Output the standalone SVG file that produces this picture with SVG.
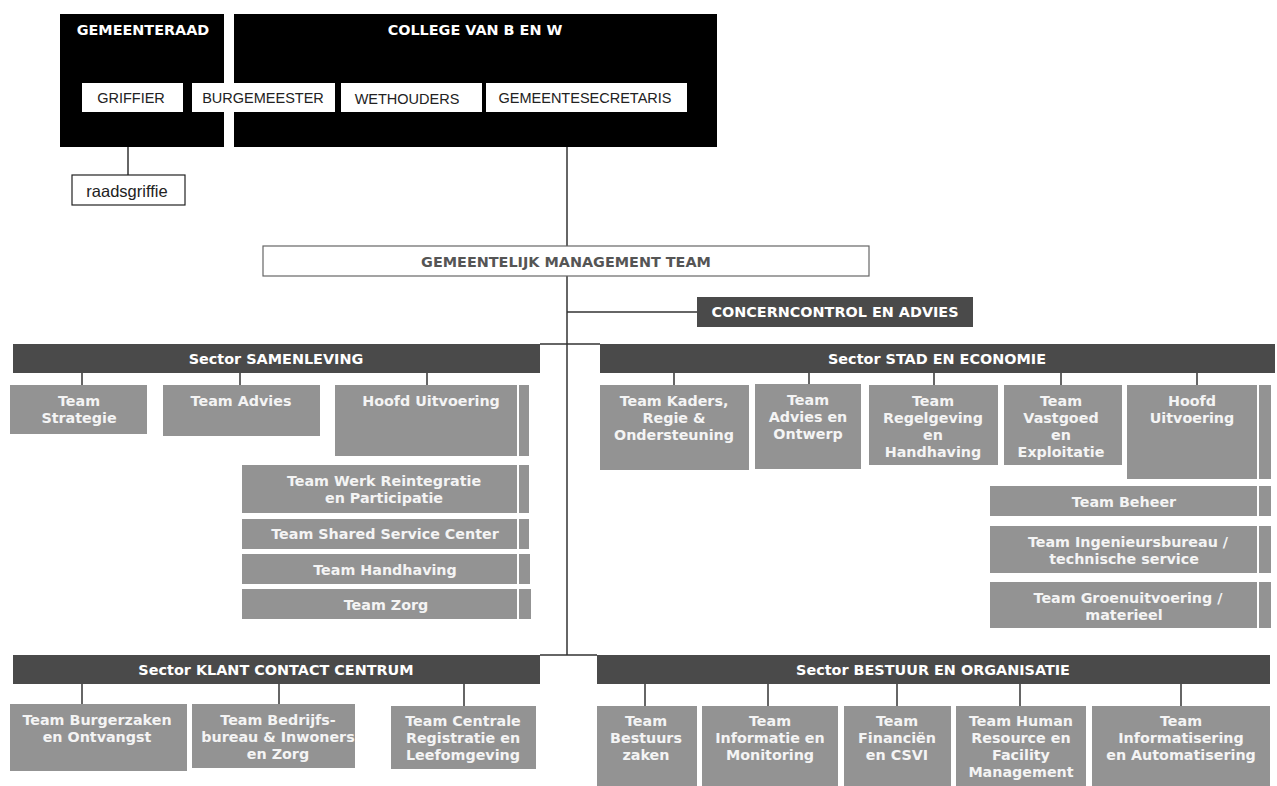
<svg xmlns="http://www.w3.org/2000/svg" width="1277" height="786" viewBox="0 0 1277 786">
<style>
.blk{fill:#000}
.wb{fill:#fff}
.wt{font-family:"Liberation Sans",Arial,sans-serif;font-size:14.5px;fill:#222;text-anchor:middle}
.ht{font-family:"DejaVu Sans",Verdana,sans-serif;font-weight:bold;font-size:14.4px;fill:#fff;text-anchor:middle}
.sec{fill:#4a4a4a}
.st{font-family:"DejaVu Sans",Verdana,sans-serif;font-weight:bold;font-size:14.4px;fill:#fff;text-anchor:middle}
.tm{fill:#939393}
.tt{font-family:"DejaVu Sans",Verdana,sans-serif;font-weight:bold;font-size:14.3px;fill:#f4f4f4;text-anchor:middle}
.tc{font-family:"DejaVu Sans",Verdana,sans-serif;font-weight:bold;font-size:14.3px;fill:#f4f4f4;text-anchor:middle}
.sp{stroke:#fff;stroke-width:2}
.ln{stroke:#333;stroke-width:1.5;fill:none}
</style>
<rect width="1277" height="786" fill="#fff"/>
<g id="connectors">
<line class="ln" x1="128" y1="147" x2="128" y2="175"/>
<line class="ln" x1="567" y1="147" x2="567" y2="246"/>
<line class="ln" x1="567" y1="276" x2="567" y2="655"/>
<line class="ln" x1="567" y1="312" x2="697" y2="312"/>
<line class="ln" x1="540" y1="344" x2="600" y2="344"/>
<line class="ln" x1="540" y1="655" x2="597" y2="655"/>
<line class="ln" x1="82" y1="373" x2="82" y2="385"/>
<line class="ln" x1="240" y1="373" x2="240" y2="385"/>
<line class="ln" x1="427" y1="373" x2="427" y2="385"/>
<line class="ln" x1="674" y1="373" x2="674" y2="385"/>
<line class="ln" x1="809" y1="373" x2="809" y2="384"/>
<line class="ln" x1="934" y1="373" x2="934" y2="385"/>
<line class="ln" x1="1061" y1="373" x2="1061" y2="385"/>
<line class="ln" x1="1197" y1="373" x2="1197" y2="385"/>
<line class="ln" x1="82" y1="684" x2="82" y2="704"/>
<line class="ln" x1="279" y1="684" x2="279" y2="704"/>
<line class="ln" x1="464" y1="684" x2="464" y2="706"/>
<line class="ln" x1="645" y1="684" x2="645" y2="706"/>
<line class="ln" x1="768" y1="684" x2="768" y2="706"/>
<line class="ln" x1="897" y1="684" x2="897" y2="706"/>
<line class="ln" x1="1020" y1="684" x2="1020" y2="706"/>
<line class="ln" x1="1181" y1="684" x2="1181" y2="706"/>
</g>
<g id="gemeenteraad"><rect class="blk" x="60" y="14" width="164" height="133"/><text class="ht" x="143" y="35">GEMEENTERAAD</text></g>
<g id="college"><rect class="blk" x="234" y="14" width="483" height="133"/><text class="ht" x="475" y="35">COLLEGE VAN B EN W</text></g>
<g id="griffier"><rect class="wb" x="82" y="83" width="101" height="29"/><text class="wt" x="131" y="103">GRIFFIER</text></g>
<g id="burgemeester"><rect class="wb" x="192" y="83" width="143" height="29"/><text class="wt" x="263" y="103">BURGEMEESTER</text></g>
<g id="wethouders"><rect class="wb" x="341" y="83" width="141" height="29"/><text class="wt" x="407" y="104">WETHOUDERS</text></g>
<g id="gemeentesecretaris"><rect class="wb" x="486" y="83" width="201" height="29"/><text class="wt" x="585" y="103">GEMEENTESECRETARIS</text></g>
<g id="raadsgriffie"><rect x="72" y="175" width="113" height="30" fill="#fff" stroke="#222" stroke-width="1.2"/><text class="wt" x="127" y="197" style="font-size:16.5px">raadsgriffie</text></g>
<g id="gmt"><rect x="263" y="246" width="606" height="30" fill="#fff" stroke="#666" stroke-width="1.2"/><text class="ht" x="566" y="267" style="fill:#555">GEMEENTELIJK MANAGEMENT TEAM</text></g>
<g id="concerncontrol"><rect class="sec" x="697" y="297" width="276" height="30"/><text class="ht" x="835" y="317">CONCERNCONTROL EN ADVIES</text></g>

<g id="sector-samenleving"><rect class="sec" x="13" y="344" width="527" height="29"/><text class="st" x="276" y="364">Sector SAMENLEVING</text></g>
<g id="team-strategie"><rect class="tm" x="10" y="385" width="137" height="49"/><text class="tt" x="79" y="406">Team</text><text class="tt" x="79" y="423">Strategie</text></g>
<g id="team-advies"><rect class="tm" x="163" y="385" width="157" height="51"/><text class="tt" x="241" y="406">Team Advies</text></g>
<g id="hoofd-uitvoering-s"><rect class="tm" x="335" y="385" width="194" height="71"/><line class="sp" x1="518" y1="385" x2="518" y2="456"/><text class="tt" x="431" y="406">Hoofd Uitvoering</text></g>
<g id="team-werk"><rect class="tm" x="242" y="465" width="287" height="48"/><line class="sp" x1="518" y1="465" x2="518" y2="513"/><text class="tt" x="384" y="486">Team Werk Reintegratie</text><text class="tt" x="384" y="503">en Participatie</text></g>
<g id="team-ssc"><rect class="tm" x="242" y="519" width="287" height="30"/><line class="sp" x1="518" y1="519" x2="518" y2="549"/><text class="tt" x="385" y="539">Team Shared Service Center</text></g>
<g id="team-handhaving"><rect class="tm" x="242" y="554" width="288" height="30"/><line class="sp" x1="518" y1="554" x2="518" y2="584"/><text class="tt" x="385" y="575">Team Handhaving</text></g>
<g id="team-zorg"><rect class="tm" x="242" y="589" width="289" height="30"/><line class="sp" x1="518" y1="589" x2="518" y2="619"/><text class="tt" x="386" y="610">Team Zorg</text></g>

<g id="sector-stad"><rect class="sec" x="600" y="344" width="675" height="29"/><text class="st" x="937" y="364">Sector STAD EN ECONOMIE</text></g>
<g id="team-kaders"><rect class="tm" x="600" y="385" width="149" height="85"/><text class="tc" x="674" y="406">Team Kaders,</text><text class="tc" x="674" y="423">Regie &amp;</text><text class="tc" x="674" y="440">Ondersteuning</text></g>
<g id="team-advies-ontwerp"><rect class="tm" x="755" y="384" width="106" height="85"/><text class="tc" x="808" y="405">Team</text><text class="tc" x="808" y="422">Advies en</text><text class="tc" x="808" y="439">Ontwerp</text></g>
<g id="team-regelgeving"><rect class="tm" x="869" y="385" width="129" height="80"/><text class="tc" x="933" y="406">Team</text><text class="tc" x="933" y="423">Regelgeving</text><text class="tc" x="933" y="440">en</text><text class="tc" x="933" y="457">Handhaving</text></g>
<g id="team-vastgoed"><rect class="tm" x="1004" y="385" width="118" height="80"/><text class="tc" x="1061" y="406">Team</text><text class="tc" x="1061" y="423">Vastgoed</text><text class="tc" x="1061" y="440">en</text><text class="tc" x="1061" y="457">Exploitatie</text></g>
<g id="hoofd-uitvoering-e"><rect class="tm" x="1127" y="385" width="144" height="94"/><line class="sp" x1="1258" y1="385" x2="1258" y2="479"/><text class="tc" x="1192" y="406">Hoofd</text><text class="tc" x="1192" y="423">Uitvoering</text></g>
<g id="team-beheer"><rect class="tm" x="990" y="486" width="281" height="30"/><line class="sp" x1="1258" y1="486" x2="1258" y2="516"/><text class="tc" x="1124" y="507">Team Beheer</text></g>
<g id="team-ingenieurs"><rect class="tm" x="990" y="526" width="281" height="47"/><line class="sp" x1="1258" y1="526" x2="1258" y2="573"/><text class="tc" x="1128" y="547">Team Ingenieursbureau  /</text><text class="tc" x="1124" y="564">technische service</text></g>
<g id="team-groen"><rect class="tm" x="990" y="582" width="281" height="46"/><line class="sp" x1="1258" y1="582" x2="1258" y2="628"/><text class="tc" x="1128" y="603">Team Groenuitvoering /</text><text class="tc" x="1124" y="620">materieel</text></g>

<g id="sector-kcc"><rect class="sec" x="13" y="655" width="527" height="29"/><text class="st" x="276" y="675">Sector KLANT CONTACT CENTRUM</text></g>
<g id="team-burgerzaken"><rect class="tm" x="10" y="704" width="177" height="67"/><text class="tt" x="97" y="725">Team Burgerzaken</text><text class="tt" x="97" y="742">en Ontvangst</text></g>
<g id="team-bedrijfsbureau"><rect class="tm" x="192" y="704" width="163" height="64"/><text class="tt" x="278" y="725">Team Bedrijfs-</text><text class="tt" x="278" y="742">bureau &amp; Inwoners</text><text class="tt" x="278" y="759">en Zorg</text></g>
<g id="team-centrale"><rect class="tm" x="391" y="706" width="145" height="63"/><text class="tt" x="463" y="726">Team Centrale</text><text class="tt" x="463" y="743">Registratie en</text><text class="tt" x="463" y="760">Leefomgeving</text></g>

<g id="sector-bestuur"><rect class="sec" x="597" y="655" width="673" height="29"/><text class="st" x="933" y="675">Sector BESTUUR EN ORGANISATIE</text></g>
<g id="team-bestuurszaken"><rect class="tm" x="597" y="706" width="100" height="80"/><text class="tc" x="646" y="726">Team</text><text class="tc" x="646" y="743">Bestuurs</text><text class="tc" x="646" y="760">zaken</text></g>
<g id="team-informatie"><rect class="tm" x="702" y="706" width="136" height="80"/><text class="tc" x="770" y="726">Team</text><text class="tc" x="770" y="743">Informatie en</text><text class="tc" x="770" y="760">Monitoring</text></g>
<g id="team-financien"><rect class="tm" x="844" y="706" width="107" height="80"/><text class="tc" x="897" y="726">Team</text><text class="tc" x="897" y="743">Financiën</text><text class="tc" x="897" y="760">en CSVI</text></g>
<g id="team-hr"><rect class="tm" x="956" y="706" width="130" height="80"/><text class="tc" x="1021" y="726">Team Human</text><text class="tc" x="1021" y="743">Resource en</text><text class="tc" x="1021" y="760">Facility</text><text class="tc" x="1021" y="777">Management</text></g>
<g id="team-automatisering"><rect class="tm" x="1092" y="706" width="178" height="80"/><text class="tc" x="1181" y="726">Team</text><text class="tc" x="1181" y="743">Informatisering</text><text class="tc" x="1181" y="760">en Automatisering</text></g>
</svg>
